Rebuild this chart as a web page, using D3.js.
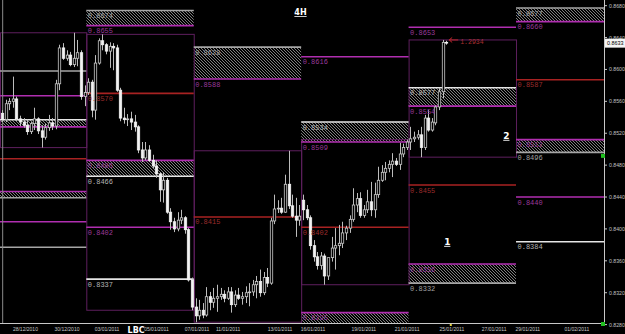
<!DOCTYPE html>
<html><head><meta charset="utf-8">
<script src="https://cdn.jsdelivr.net/npm/d3@7"></script>
<style>html,body{margin:0;padding:0;background:#000;overflow:hidden}</style>
</head><body><svg id="c" width="625" height="334"></svg>
<script>
// ---- candle data (4H bars, bar index 0..124) ----
const opens = [0.8545,0.8537,0.8557,0.8560,0.8563,0.8538,0.8534,0.8530,0.8522,0.8532,0.8538,0.8523,0.8515,0.8527,0.8533,0.8529,0.8582,0.8627,0.8614,0.8618,0.8606,0.8614,0.8621,0.8566,0.8571,0.8584,0.8549,0.8608,0.8636,0.8631,0.8623,0.8629,0.8627,0.8574,0.8539,0.8537,0.8538,0.8534,0.8528,0.8499,0.8489,0.8499,0.8486,0.8479,0.8469,0.8449,0.8461,0.8421,0.8409,0.8400,0.8411,0.8414,0.8399,0.8336,0.8302,0.8291,0.8298,0.8292,0.8315,0.8308,0.8313,0.8315,0.8318,0.8313,0.8321,0.8305,0.8317,0.8313,0.8315,0.8320,0.8321,0.8330,0.8334,0.8320,0.8339,0.8332,0.8410,0.8425,0.8426,0.8421,0.8456,0.8429,0.8416,0.8411,0.8436,0.8424,0.8414,0.8379,0.8365,0.8354,0.8366,0.8341,0.8364,0.8376,0.8379,0.8382,0.8395,0.8401,0.8412,0.8430,0.8438,0.8417,0.8424,0.8434,0.8424,0.8443,0.8461,0.8471,0.8476,0.8481,0.8485,0.8481,0.8494,0.8502,0.8509,0.8513,0.8515,0.8518,0.8502,0.8539,0.8524,0.8533,0.8553,0.8572,0.8634];
const highs = [0.8549,0.8562,0.8564,0.8591,0.8566,0.8542,0.8539,0.8537,0.8534,0.8552,0.8540,0.8530,0.8532,0.8543,0.8539,0.8587,0.8631,0.8633,0.8624,0.8622,0.8646,0.8637,0.8624,0.8580,0.8589,0.8587,0.8618,0.8639,0.8644,0.8633,0.8634,0.8633,0.8631,0.8577,0.8552,0.8544,0.8547,0.8543,0.8530,0.8509,0.8509,0.8505,0.8493,0.8486,0.8471,0.8471,0.8464,0.8426,0.8414,0.8421,0.8424,0.8416,0.8401,0.8339,0.8313,0.8311,0.8307,0.8327,0.8321,0.8326,0.8330,0.8326,0.8323,0.8327,0.8327,0.8323,0.8326,0.8321,0.8328,0.8332,0.8336,0.8341,0.8349,0.8346,0.8351,0.8414,0.8443,0.8436,0.8439,0.8468,0.8498,0.8443,0.8439,0.8430,0.8443,0.8430,0.8417,0.8386,0.8371,0.8371,0.8369,0.8359,0.8390,0.8401,0.8405,0.8409,0.8404,0.8417,0.8451,0.8445,0.8446,0.8430,0.8449,0.8459,0.8458,0.8478,0.8480,0.8484,0.8486,0.8495,0.8489,0.8508,0.8507,0.8512,0.8528,0.8522,0.8524,0.8528,0.8543,0.8549,0.8539,0.8555,0.8577,0.8637,0.8636];
const lows = [0.8534,0.8534,0.8549,0.8552,0.8535,0.8529,0.8527,0.8518,0.8519,0.8524,0.8519,0.8502,0.8512,0.8523,0.8524,0.8525,0.8574,0.8612,0.8611,0.8604,0.8603,0.8604,0.8562,0.8554,0.8568,0.8540,0.8537,0.8606,0.8624,0.8619,0.8602,0.8599,0.8572,0.8535,0.8532,0.8529,0.8524,0.8522,0.8495,0.8484,0.8486,0.8484,0.8476,0.8464,0.8434,0.8433,0.8419,0.8399,0.8396,0.8397,0.8406,0.8394,0.8334,0.8298,0.8283,0.8286,0.8288,0.8290,0.8298,0.8301,0.8296,0.8311,0.8308,0.8311,0.8295,0.8302,0.8311,0.8305,0.8307,0.8303,0.8316,0.8313,0.8315,0.8317,0.8327,0.8330,0.8406,0.8420,0.8419,0.8420,0.8425,0.8414,0.8390,0.8404,0.8411,0.8411,0.8374,0.8359,0.8349,0.8349,0.8330,0.8336,0.8359,0.8349,0.8367,0.8376,0.8386,0.8395,0.8409,0.8421,0.8414,0.8414,0.8420,0.8416,0.8414,0.8439,0.8459,0.8461,0.8471,0.8465,0.8479,0.8474,0.8490,0.8499,0.8499,0.8509,0.8512,0.8490,0.8499,0.8522,0.8522,0.8530,0.8549,0.8564,0.8631];
const closes = [0.8537,0.8557,0.8560,0.8563,0.8538,0.8534,0.8530,0.8522,0.8532,0.8538,0.8523,0.8515,0.8527,0.8533,0.8529,0.8582,0.8627,0.8614,0.8618,0.8606,0.8614,0.8621,0.8566,0.8571,0.8584,0.8549,0.8608,0.8636,0.8631,0.8623,0.8629,0.8627,0.8574,0.8539,0.8537,0.8538,0.8534,0.8528,0.8499,0.8489,0.8499,0.8486,0.8479,0.8469,0.8449,0.8461,0.8421,0.8409,0.8400,0.8411,0.8414,0.8399,0.8336,0.8302,0.8291,0.8298,0.8292,0.8315,0.8308,0.8313,0.8315,0.8318,0.8313,0.8321,0.8305,0.8317,0.8313,0.8315,0.8320,0.8321,0.8330,0.8334,0.8320,0.8339,0.8332,0.8410,0.8425,0.8426,0.8421,0.8456,0.8429,0.8416,0.8411,0.8416,0.8424,0.8414,0.8379,0.8365,0.8354,0.8366,0.8341,0.8364,0.8376,0.8379,0.8382,0.8395,0.8401,0.8412,0.8430,0.8438,0.8417,0.8424,0.8434,0.8424,0.8443,0.8461,0.8471,0.8476,0.8481,0.8485,0.8481,0.8494,0.8502,0.8509,0.8513,0.8515,0.8518,0.8502,0.8539,0.8524,0.8534,0.8553,0.8572,0.8634,0.8633];

// ---- weekly columns (bar index boundaries) ----
const weekStarts = [-0.6, 23.5, 53.5, 83.5, 113.5, 143.5, 168.1];

// ---- level lines: week column, price, kind ----
const levelWeek  = [0,0,0,0,0,0,0,0,0, 1,1,1,1,1,1,1, 2,2,2, 3,3,3,3,3, 4,4,4,4,4,4, 5,5,5,5,5,5,5];
const levelPrice = [0.8598,0.8567,0.8537,0.8528,0.8488,0.8447,0.8439,0.8409,0.8377,
                    0.8674,0.8655,0.8570,0.8486,0.8466,0.8402,0.8337,
                    0.8628,0.8588,0.8415,
                    0.8616,0.8534,0.8509,0.8402,0.8295,
                    0.8653,0.8577,0.8554,0.8455,0.8356,0.8332,
                    0.8677,0.8660,0.8587,0.8512,0.8496,0.8440,0.8384];
const levelKind  = ["grey","mag","white","mag","red","mag","grey","mag","grey",
                    "grey","mag","red","mag","white","mag","white",
                    "grey","mag","red",
                    "mag","white","mag","red","mag",
                    "mag","white","mag","red","mag","grey",
                    "grey","mag","red","mag","grey","mag","white"];
// ---- hatched zones: week column, upper price, lower price ----
const zoneWeek  = [0,0,1,1,2,3,3,4,4,5,5];
const zoneHigh  = [0.8537,0.8447,0.8674,0.8486,0.8628,0.8534,0.8295,0.8577,0.8356,0.8677,0.8512];
const zoneLow   = [0.8528,0.8439,0.8655,0.8466,0.8588,0.8509,0.8270,0.8554,0.8332,0.8660,0.8496];

// ---- axes ----
const priceTicks = [0.8280,0.8320,0.8360,0.8400,0.8440,0.8480,0.8520,0.8560,0.8600,0.8640,0.8680];
const dateTickBars = [6.5,18.1,29.3,43.1,54.4,63.1,77.6,86.8,101,113.1,125.6,137.4,146.8,160.5];
const dateTickLabels = ["28/12/2010","30/12/2010","03/01/2011","05/01/2011","07/01/2011","11/01/2011","13/01/2011","16/01/2011","19/01/2011","21/01/2011","25/01/2011","27/01/2011","29/01/2011","01/02/2011"];
const lastPrice = 0.8633;
const arrowPrice = 0.8637, arrowText = "1.2934";
const waveLabels = ["1","2"], waveBars = [124.3, 140.8], wavePrices = [0.8380, 0.8513];
const tagText = "LBC", tagBar = 37.4;

const W = 625, H = 334, plotRight = 604, plotBottom = 323;
const svg = d3.select("#c");
svg.append("rect").attr("width",W).attr("height",H).attr("fill","#000");

const x = d3.scaleLinear().domain([0, 168]).range([2.15, 2.15 + 3.581*168]);
const y = d3.scaleLinear().domain([0.8280, 0.8680]).range([324.6, 5.66]);

const colors = {mag:"#b02eb0", red:"#a82222", white:"#e6e6e6", grey:"#a6a6a6"};
const textColors = {mag:"#9a3a9a", red:"#9c2c2c", white:"#b4b4b4", grey:"#a0a0a0"};

const defs = svg.append("defs");
const pat = defs.append("pattern").attr("id","hatch").attr("patternUnits","userSpaceOnUse")
  .attr("width",3).attr("height",3);
pat.append("rect").attr("width",3).attr("height",3).attr("fill","#000");
pat.append("path").attr("d","M-1,-1L4,4M-1,2L1,4M2,-1L4,1").attr("stroke","#8c8c8c").attr("stroke-width",0.9);
defs.append("clipPath").attr("id","plot").append("rect").attr("x",0).attr("y",0).attr("width",plotRight).attr("height",plotBottom);

const g = svg.append("g").attr("clip-path","url(#plot)");

// zones
g.selectAll(".zone").data(zoneWeek.map((w,i)=>({w,hi:zoneHigh[i],lo:zoneLow[i]}))).join("rect")
  .attr("x",d=>x(weekStarts[d.w])).attr("width",d=>x(weekStarts[d.w+1])-x(weekStarts[d.w]))
  .attr("y",d=>y(d.hi)).attr("height",d=>y(d.lo)-y(d.hi)).attr("fill","url(#hatch)");

// weekly range boxes from candles
const weeks = [];
for (let w=0; w<5; w++){
  const idx = d3.range(opens.length).filter(i=>i>weekStarts[w] && i<weekStarts[w+1]);
  if(!idx.length) continue;
  weeks.push({w, hi:d3.max(idx,i=>highs[i]), lo:d3.min(idx,i=>lows[i])});
}
g.selectAll(".box").data(weeks).join("rect")
  .attr("x",d=>x(weekStarts[d.w])+0.5).attr("width",d=>x(weekStarts[d.w+1])-x(weekStarts[d.w]))
  .attr("y",d=>y(d.hi)).attr("height",d=>y(d.lo)-y(d.hi))
  .attr("fill","none").attr("stroke","#5e1f5e").attr("stroke-width",1);

// level lines
const levels = levelWeek.map((w,i)=>({w,p:levelPrice[i],k:levelKind[i]}));
g.selectAll(".lvl").data(levels).join("line")
  .attr("x1",d=>x(weekStarts[d.w])).attr("x2",d=>x(weekStarts[d.w+1]))
  .attr("y1",d=>y(d.p)).attr("y2",d=>y(d.p))
  .attr("stroke",d=>colors[d.k]).attr("stroke-width",1.6);

// left marker vertical line
g.append("line").attr("x1",x(0.15)).attr("x2",x(0.15)).attr("y1",0).attr("y2",plotBottom)
  .attr("stroke","#8a8a8a").attr("stroke-width",1);

// candles
const candles = opens.map((o,i)=>({i,o,h:highs[i],l:lows[i],c:closes[i]}));
g.selectAll(".wick").data(candles).join("line")
  .attr("x1",d=>Math.round(x(d.i))+0.5).attr("x2",d=>Math.round(x(d.i))+0.5)
  .attr("y1",d=>y(d.h)).attr("y2",d=>y(d.l)).attr("stroke","#bcbcbc").attr("stroke-width",1);
g.selectAll(".body").data(candles).join("rect")
  .attr("x",d=>Math.round(x(d.i))-0.7).attr("width",2.4)
  .attr("y",d=>y(Math.max(d.o,d.c))).attr("height",d=>Math.max(0.8,Math.abs(y(d.o)-y(d.c))))
  .attr("fill",d=>d.c>=d.o?"#000":"#f2f2f2")
  .attr("stroke",d=>d.c>=d.o?"#c8c8c8":"#f2f2f2").attr("stroke-width",0.8);

// level labels (not for the first, partly hidden column)
g.selectAll(".lbl").data(levels.filter(d=>d.w>0)).join("text")
  .attr("x",d=>x(weekStarts[d.w])+1.5).attr("y",d=>y(d.p)+7.5)
  .attr("font-family","Liberation Mono").attr("font-size",7).attr("fill",d=>textColors[d.k])
  .text(d=>d.p.toFixed(4));

// axes lines
svg.append("line").attr("x1",plotRight+0.5).attr("x2",plotRight+0.5).attr("y1",0).attr("y2",plotBottom)
  .attr("stroke","#c8c8c8");
svg.append("line").attr("x1",0).attr("x2",plotRight).attr("y1",plotBottom+0.5).attr("y2",plotBottom+0.5)
  .attr("stroke","#c8c8c8");

// price axis
const pa = svg.append("g");
pa.selectAll("line").data(priceTicks).join("line")
  .attr("x1",plotRight).attr("x2",plotRight+3).attr("y1",d=>y(d)).attr("y2",d=>y(d)).attr("stroke","#c8c8c8");
pa.selectAll("text").data(priceTicks).join("text")
  .attr("x",plotRight+5).attr("y",d=>y(d)+2).attr("font-family","Liberation Sans").attr("font-size",5.2)
  .attr("fill","#c0c0c0").text(d=>d.toFixed(4));
pa.append("rect").attr("x",plotRight+1).attr("y",y(lastPrice)-4.5).attr("width",20).attr("height",9).attr("fill","#f4f4f4");
pa.append("text").attr("x",plotRight+3).attr("y",y(lastPrice)+2).attr("font-family","Liberation Sans").attr("font-size",5.4)
  .attr("fill","#000").text(lastPrice.toFixed(4));

// date axis
const da = svg.append("g");
da.selectAll("text").data(dateTickLabels).join("text")
  .attr("x",(d,i)=>x(dateTickBars[i])).attr("y",331).attr("text-anchor","middle")
  .attr("font-family","Liberation Sans").attr("font-size",5).attr("fill","#c8c8c8").text(d=>d);

// markers
svg.append("rect").attr("x",x(opens.length)).attr("y",plotBottom+1).attr("width",2).attr("height",2).attr("fill","#e0d040");
svg.append("rect").attr("x",plotRight-3).attr("y",y(0.8491)-2.5).attr("width",4).attr("height",4).attr("fill","#20c020");
svg.append("rect").attr("x",plotRight-3).attr("y",plotBottom-1).attr("width",4).attr("height",4).attr("fill","#20c020");

// title & annotations
svg.append("text").attr("x",W/2-12).attr("y",15).attr("text-anchor","middle").attr("font-family","DejaVu Sans")
  .attr("font-weight","bold").attr("font-size",8).attr("fill","#fff").attr("text-decoration","underline").text("4H");
svg.selectAll(".wave").data(waveLabels).join("text")
  .attr("x",(d,i)=>x(waveBars[i])).attr("y",(d,i)=>y(wavePrices[i])).attr("text-anchor","middle")
  .attr("font-family","DejaVu Sans").attr("font-weight","bold").attr("font-size",9).attr("fill","#fff")
  .attr("text-decoration","underline").text(d=>d);

// arrow to last high
const ax = x(opens.length-1)+2, ay = y(arrowPrice);
svg.append("path").attr("d",`M${ax+10},${ay}L${ax+1},${ay}M${ax+4},${ay-2.5}L${ax+1},${ay}L${ax+4},${ay+2.5}`)
  .attr("stroke","#c02828").attr("fill","none").attr("stroke-width",1);
svg.append("text").attr("x",ax+12).attr("y",ay+4).attr("font-family","Liberation Mono").attr("font-size",6.5)
  .attr("fill","#a83030").text(arrowText);

// LBC tag
svg.append("text").attr("x",x(tagBar)).attr("y",333).attr("text-anchor","middle")
  .attr("font-family","DejaVu Sans").attr("font-weight","bold").attr("font-size",8).attr("fill","#fff")
  .text(tagText);
</script></body></html>
